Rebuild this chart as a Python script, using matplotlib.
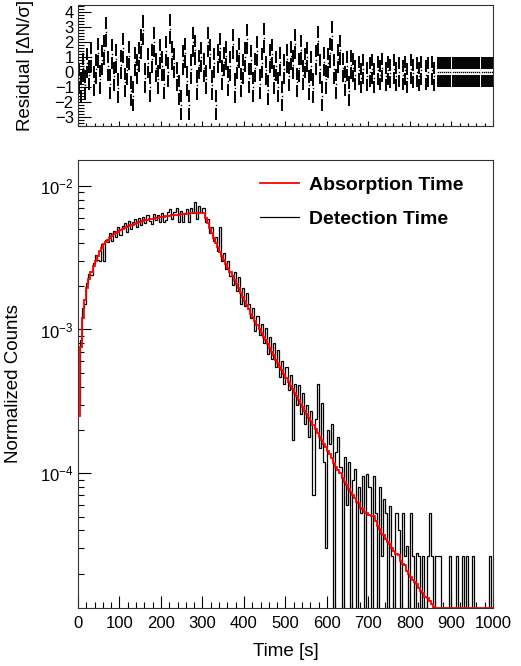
import matplotlib.pyplot as plt
import numpy as np
from matplotlib.ticker import MultipleLocator, LogLocator, NullFormatter

plt.rcParams['font.family'] = ['Liberation Sans', 'DejaVu Sans']
plt.rcParams['mathtext.default'] = 'regular'

t_min, t_max, bin_width = 0, 1000, 5
scale = 1e-5  # counts below are in units of 1e-5

# absorption time histogram (red), one value per 5 s bin
absorption = [
    25, 75, 120, 160, 195, 225, 250, 275, 300, 325, 350, 370, 390, 405, 420, 435, 450, 460, 470, 480,
    490, 500, 507, 515, 522, 530, 537, 544, 550, 556, 562, 568, 573, 578, 583, 587, 591, 595, 599, 602,
    606, 609, 612, 615, 618, 621, 624, 626, 629, 631, 633, 636, 638, 640, 642, 644, 646, 648, 650, 650,
    646, 596, 550, 507, 468, 432, 398, 372, 347, 324, 302, 285, 269, 251, 237, 221, 207, 193, 180, 168,
    158, 148, 138, 129, 122, 114, 107, 100, 94.4, 89.1, 84.1, 79.4, 74.1, 70.0, 66.1, 61.7, 58.2, 55.0, 51.9, 49.0,
    45.7, 43.2, 40.7, 38.5, 36.3, 34.3, 32.4, 30.5, 28.8, 27.2, 25.7, 24.3, 22.9, 21.6, 20.4, 19.1, 18.0, 17.0, 16.0, 15.1,
    14.3, 13.5, 12.7, 11.7, 11.0, 10.5, 10.0, 9.33, 8.71, 8.32, 7.76, 7.41, 7.00, 6.76, 6.31, 6.17, 5.75, 5.62, 5.37, 5.25,
    5.13, 5.01, 5.01, 4.68, 4.27, 4.07, 3.80, 3.72, 3.47, 3.31, 3.24, 3.02, 2.88, 2.75, 2.69, 2.45, 2.34, 2.29, 2.09, 2.00,
    1.91, 1.82, 1.74, 1.70, 1.58, 1.51, 1.48, 1.38, 1.35, 1.29, 1.23, 1.17, 1.12, 0, 0, 0, 0, 0, 0, 0,
    0, 0, 0, 0, 0, 0, 0, 0, 0, 0, 0, 0, 0, 0, 0, 0, 0, 0, 0, 0,
]

# detection time histogram (black)
detection = [
    30, 85, 140, 150, 210, 245, 240, 290, 330, 305, 300, 395, 300, 420, 405, 470, 410, 485, 440, 515,
    455, 525, 550, 480, 570, 500, 560, 590, 520, 600, 535, 610, 550, 625, 570, 545, 640, 575, 625, 560,
    645, 560, 580, 655, 690, 590, 660, 700, 560, 670, 560, 650, 690, 560, 705, 650, 770, 590, 720, 660,
    700, 560, 590, 470, 520, 410, 440, 350, 520, 300, 340, 265, 300, 235, 205, 250, 185, 230, 150, 195,
    145, 180, 150, 120, 140, 98, 125, 92, 110, 80, 102, 68, 88, 62, 80, 55, 72, 47, 60, 42,
    55, 38, 48, 17, 42, 30, 41, 26, 36, 22, 30, 18, 27, 7, 24, 42, 15, 31, 12, 3,
    20, 16, 22, 0, 14, 18, 11, 0, 13, 6, 12, 0, 9, 10.7, 0, 8, 5.3, 9.5, 0, 9.8,
    8, 0, 9.5, 5.3, 0, 8, 2.67, 6.6, 5.3, 0, 5.9, 2.67, 0, 5.3, 4, 0, 5.3, 2.67, 3.1, 0,
    5.3, 2.67, 0, 2.8, 2.67, 0, 2.67, 0, 2.67, 5.3, 2.67, 0, 2.67, 2.67, 2.67, 0, 0, 0, 0, 2.67,
    0, 0, 2.67, 0, 0, 2.67, 0, 2.67, 0, 0, 2.67, 0, 0, 0, 0, 0, 0, 0, 2.67, 0,
]

nan = float('nan')
# normalized residuals, error bar is +-1
residual = [
    -0.4, -1.0, 0.3, -0.9, 0.6, -0.2, 1.0, -0.6, 0.2, 1.3, -0.5, 0.8, 1.5, 2.7, 0.4, -0.8, 1.2, -0.3, 0.9, -1.1,
    0.5, 1.6, -0.7, 0.1, 1.1, -1.3, -1.6, 0.7, 0.2, 1.0, 1.9, 2.8, -0.4, 0.6, -1.0, 0.9, 2.0, 0.3, -0.5, 1.2,
    0.4, -0.8, 1.4, 0.0, 2.9, 1.1, 0.6, -0.3, -1.2, -2.2, 0.8, 1.3, -0.6, -2.2, 0.2, 2.0, 1.5, -0.9, 0.5, 1.0,
    0.3, -0.5, 2.0, 1.2, -0.9, 0.6, -2.2, 0.9, 1.6, -0.2, 0.7, 1.1, -0.6, 0.4, 1.9, -1.1, 0.5, 1.3, -0.7, 0.2,
    1.0, 2.2, -0.4, 0.8, -1.0, 0.3, 1.4, -0.8, 0.6, 2.3, 0.1, -1.2, 0.9, 1.2, -0.5, 0.4, -1.0, 0.7, -1.6, 0.2,
    0.9, -0.3, 1.1, 0.5, 1.9, -0.7, 0.3, 1.5, -0.2, 0.6, 1.0, -0.9, 0.4, -1.1, 0.8, 2.1, 0.2, -1.6, 0.7, -0.5,
    0.6, 1.3, 2.4, 0.2, -0.8, 0.9, 1.5, 0.3, -0.6, 0.4, -1.3, 0.5,
    0.3, -0.2, nan, 0.1, -0.4, 0.2, nan, -0.3, 0.0, 0.2, -0.4, nan, 0.1, -0.2, 0.3, nan, -0.3, 0.1, -0.1, nan,
    0.2, -0.3, 0.0, nan, -0.2, 0.1, -0.4, nan, 0.2, -0.1, nan, 0.0, -0.3, 0.1, nan, -0.2, 0.0, nan, 0.1, -0.3, nan,
    0, 0, 0, 0, 0, 0, 0, 0, 0, 0, 0, 0, 0, 0, 0, 0, 0, 0, 0, 0, 0, 0, 0, 0, 0, 0, 0,
]

edges = np.arange(t_min, t_max + bin_width, bin_width)
centers = 0.5 * (edges[:-1] + edges[1:])
y_lo, y_hi = 1.155e-5, 1.51e-2

fig = plt.figure(figsize=(5.21, 6.66), dpi=100)
ax_r = fig.add_axes([0.1497, 0.8108, 0.7965, 0.1817])
ax = fig.add_axes([0.1497, 0.0871, 0.7965, 0.6727])

# ---- residual panel
res = np.array(residual)
gap = 0.18
ax_r.vlines(centers, res - 1, res - gap, color='black', lw=1.4)
ax_r.vlines(centers, res + gap, res + 1, color='black', lw=1.4)
ax_r.plot(centers, res, ls='none', marker='s', ms=1.0, color='black', mew=0)
ax_r.set_xlim(t_min, t_max)
ax_r.set_ylim(-3.62, 4.49)
ax_r.yaxis.set_major_locator(MultipleLocator(1))
ax_r.yaxis.set_minor_locator(MultipleLocator(0.2))
ax_r.xaxis.set_major_locator(MultipleLocator(100))
ax_r.xaxis.set_minor_locator(MultipleLocator(20))
ax_r.set_xticklabels([])
ax_r.tick_params(axis='y', which='major', direction='in', length=9, width=0.8, labelsize=12, pad=3)
ax_r.tick_params(axis='y', which='minor', direction='in', length=4.5, width=0.8)
ax_r.tick_params(axis='x', which='major', direction='in', length=3.6, width=0.8)
ax_r.tick_params(axis='x', which='minor', direction='in', length=2, width=0.8)
ax_r.set_ylabel('Residual [ΔN/σ]', fontsize=13.5)
ax_r.yaxis.set_label_coords(-0.106, 0.5)

# ---- main panel
det = np.clip(np.array(detection) * scale, y_lo, None)
absn = np.clip(np.array(absorption) * scale, y_lo, None)
ax.stairs(det, edges, baseline=None, color='black', lw=0.9, label='Detection Time')
ax.stairs(absn, edges, baseline=None, color='#ff0000', lw=1.3, label='Absorption Time', zorder=3)
ax.set_yscale('log')
ax.set_xlim(t_min, t_max)
ax.set_ylim(y_lo, y_hi)
ax.xaxis.set_major_locator(MultipleLocator(100))
ax.xaxis.set_minor_locator(MultipleLocator(20))
ax.yaxis.set_major_locator(LogLocator(base=10, numticks=10))
ax.yaxis.set_minor_locator(LogLocator(base=10, subs=np.arange(2, 10), numticks=20))
ax.yaxis.set_minor_formatter(NullFormatter())
ax.tick_params(which='major', direction='in', length=9, width=0.8, labelsize=12)
ax.tick_params(which='minor', direction='in', length=4.5, width=0.8)
ax.tick_params(axis='x', pad=6)
ax.set_xlabel('Time [s]', fontsize=13.5, labelpad=8.5)
ax.set_ylabel('Normalized Counts', fontsize=13.5)
ax.yaxis.set_label_coords(-0.135, 0.5)

handles, labels = ax.get_legend_handles_labels()
ax.legend(handles[::-1], labels[::-1], loc='upper left', bbox_to_anchor=(0.4386, 0.963),
          frameon=False, borderpad=0, borderaxespad=0, handlelength=2.0, handletextpad=0.5,
          labelspacing=0.85, prop={'weight': 'bold', 'size': 14})

for a in (ax, ax_r):
    for s in a.spines.values():
        s.set_color('#333333')
        s.set_linewidth(0.8)

fig.savefig('out.png', dpi=100)
